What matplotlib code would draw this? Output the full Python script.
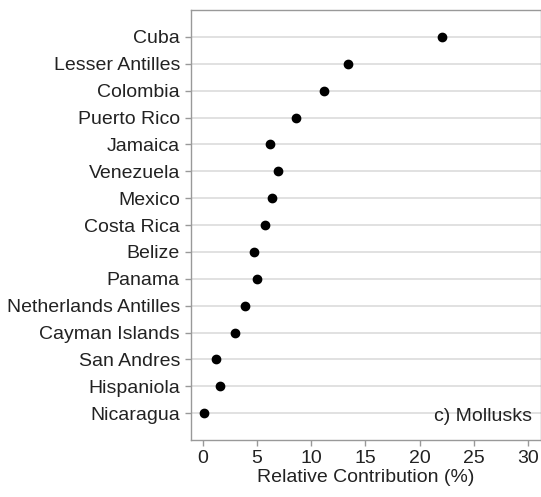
import numpy as np
import matplotlib
matplotlib.use("Agg")
import matplotlib.pyplot as plt

# data, top row first
regions = ["Cuba", "Lesser Antilles", "Colombia", "Puerto Rico", "Jamaica",
           "Venezuela", "Mexico", "Costa Rica", "Belize", "Panama",
           "Netherlands Antilles", "Cayman Islands", "San Andres",
           "Hispaniola", "Nicaragua"]
contribution = [22.1, 13.35, 11.2, 8.55, 6.15, 6.9, 6.35, 5.7, 4.75, 4.95,
                3.85, 3.0, 1.25, 1.6, 0.07]
x_ticks = [0, 5, 10, 15, 20, 25, 30]
panel_label = "c) Mollusks"

plt.rcParams['font.family'] = ['Liberation Sans', 'DejaVu Sans']

fig = plt.figure(figsize=(5.41, 4.97), dpi=100)
ax = fig.add_axes([191 / 541, 57 / 497, 350 / 541, 430 / 497])

ypos = np.arange(len(regions), 0, -1)
ax.plot(contribution, ypos, 'o', color='black', markersize=6, zorder=3)

ax.set_ylim(0, len(regions) + 1)
ax.set_xlim(-1.1, 31.2)
ax.set_yticks(ypos)
ax.set_yticklabels(regions)
ax.set_xticks(x_ticks)

ax.grid(axis='y', color='#dcdcdc', linewidth=1.2)
ax.grid(axis='x', visible=False)
ax.set_axisbelow(True)

for side in ['left', 'top', 'bottom', 'right']:
    ax.spines[side].set_color('#999999')
    ax.spines[side].set_linewidth(1.0)

ax.tick_params(axis='both', colors='#999999', labelcolor='#222222',
               labelsize=14, length=4, width=1)
ax.tick_params(axis='y', pad=4)

ax.set_xlabel("Relative Contribution (%)", fontsize=14, color='#222222', labelpad=1)
ax.text(0.975, 0.035, panel_label, transform=ax.transAxes, ha='right', va='bottom',
        fontsize=14, color='#222222')

fig.savefig("out.png", dpi=100)
